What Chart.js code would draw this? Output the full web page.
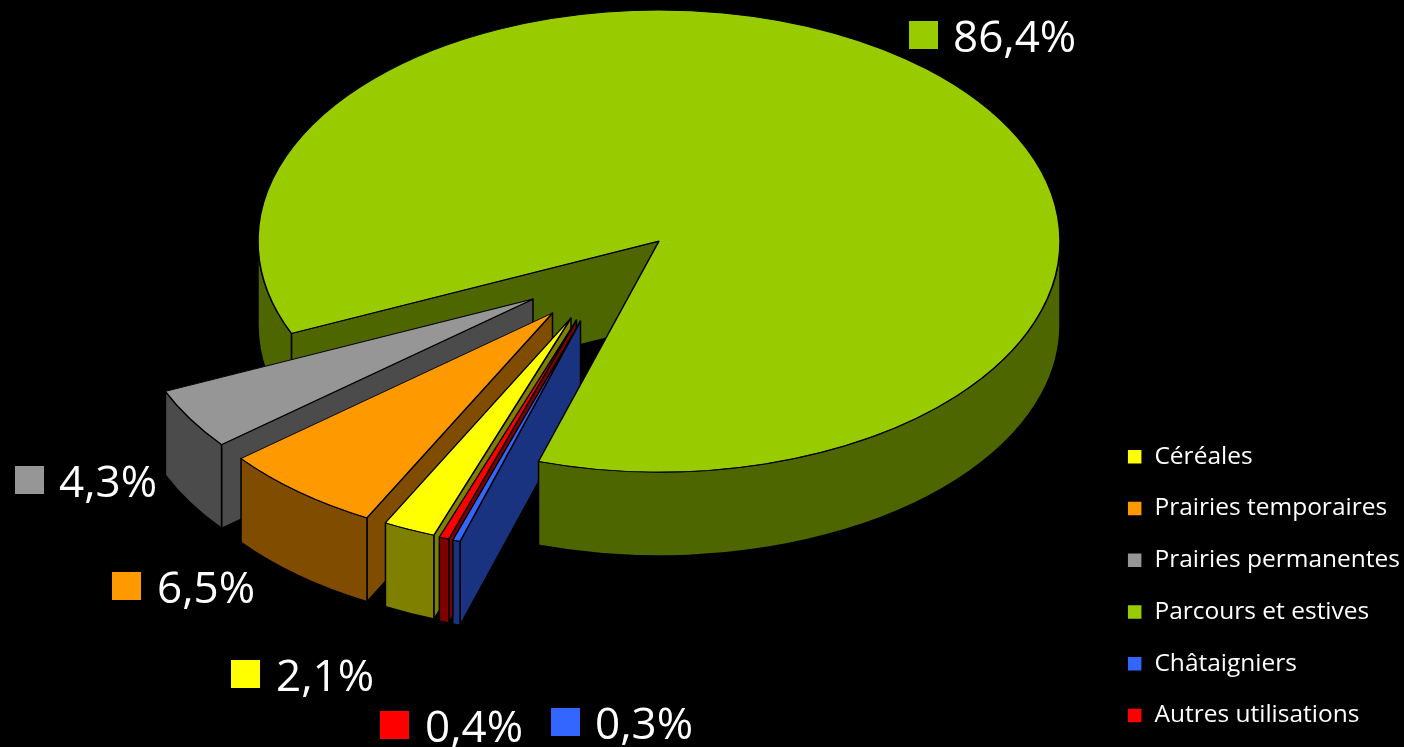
<!DOCTYPE html>
<html>
<head>
<meta charset="utf-8">
<title>Occupation du sol</title>
<script src="https://cdn.jsdelivr.net/npm/chart.js@4"></script>
<style>
  html, body { margin: 0; padding: 0; background: #000; }
  canvas { display: block; }
</style>
</head>
<body>
<canvas id="chart" width="1404" height="747"></canvas>
<script>
// data
const categories = ['Céréales', 'Prairies temporaires', 'Prairies permanentes', 'Parcours et estives', 'Châtaigniers', 'Autres utilisations'];
const shares = [2.1, 6.5, 4.3, 86.4, 0.3, 0.4];

// styles
const topColors = ['#FFFF00', '#FF9900', '#969696', '#99CC00', '#3366FF', '#FF0000'];
const sideColors = ['#808000', '#804D00', '#4B4B4B', '#4D6600', '#1A3380', '#800000'];

// 3d look: where the pie lands on screen, how flat and how thick it is
const view = { x: 659, y: 241, squash: 0.576, depth: 84 };
// how far each slice is pulled out, in screen pixels
const pull = [[-88, 77], [-106.5, 72], [-126, 58], [0, 0], [-78.5, 80], [-82.5, 79]];
// value label spots: square left/top, text left
const labelSpots = [[231, 660, 276], [112, 572, 157], [15, 466, 59], [909, 21, 953], [551, 708, 595], [380, 711, 425]];
const mainSlice = 3;
const drawOrder = [2, 1, 0, 5, 4];

function project(arc, i, angle) {
  const r = arc.outerRadius;
  return [view.x + pull[i][0] + Math.cos(angle) * r, view.y + pull[i][1] + Math.sin(angle) * r * view.squash];
}

function drawWall(ctx, arc, i, angle) {
  const p = project(arc, i, angle);
  const ax = view.x + pull[i][0], ay = view.y + pull[i][1];
  ctx.beginPath();
  ctx.moveTo(ax, ay);
  ctx.lineTo(p[0], p[1]);
  ctx.lineTo(p[0], p[1] + view.depth);
  ctx.lineTo(ax, ay + view.depth);
  ctx.closePath();
  ctx.fillStyle = sideColors[i];
  ctx.fill();
  ctx.stroke();
}

// rim is only seen on the lower half, turn = 0 or 1 picks which lap of the circle
function drawRim(ctx, arc, i, turn) {
  const low = turn * 2 * Math.PI, high = low + Math.PI;
  const a0 = Math.max(arc.startAngle, low), a1 = Math.min(arc.endAngle, high);
  if (a1 <= a0) return;
  const cx = view.x + pull[i][0], cy = view.y + pull[i][1];
  const r = arc.outerRadius, ry = r * view.squash;
  ctx.beginPath();
  ctx.ellipse(cx, cy, r, ry, 0, a0, a1);
  ctx.ellipse(cx, cy + view.depth, r, ry, 0, a1, a0, true);
  ctx.closePath();
  ctx.fillStyle = sideColors[i];
  ctx.fill();
  ctx.stroke();
}

function drawTop(ctx, arc, i) {
  ctx.save();
  ctx.translate(view.x + pull[i][0], view.y + pull[i][1]);
  ctx.scale(1, view.squash);
  ctx.translate(-arc.x, -arc.y);
  arc.draw(ctx);
  ctx.restore();
}

const pie3d = {
  id: 'pie3d',
  beforeDatasetsDraw(chart) {
    const ctx = chart.ctx;
    const arcs = chart.getDatasetMeta(0).data;
    ctx.save();
    ctx.strokeStyle = '#000';
    ctx.lineWidth = 1.5;
    ctx.lineJoin = 'round';

    const main = arcs[mainSlice];
    drawWall(ctx, main, mainSlice, main.startAngle);
    drawRim(ctx, main, mainSlice, 0);

    drawOrder.forEach(i => {
      const arc = arcs[i];
      drawWall(ctx, arc, i, arc.startAngle);
      drawRim(ctx, arc, i, 0);
      drawRim(ctx, arc, i, 1);
      drawTop(ctx, arc, i);
    });

    drawRim(ctx, main, mainSlice, 1);
    drawTop(ctx, main, mainSlice);
    ctx.restore();
    return false;
  },
  afterDraw(chart) {
    const ctx = chart.ctx;
    ctx.save();
    ctx.font = '44px "Open Sans"';
    ctx.textBaseline = 'alphabetic';
    shares.forEach((v, i) => {
      const s = labelSpots[i];
      ctx.fillStyle = topColors[i];
      ctx.fillRect(s[0], s[1], 29, 28);
      ctx.fillStyle = '#fff';
      ctx.fillText(v.toFixed(1).replace('.', ',') + '%', s[2], s[1] + 31);
    });
    ctx.restore();
  }
};

new Chart(document.getElementById('chart'), {
  type: 'pie',
  data: {
    labels: categories,
    datasets: [{
      data: shares,
      backgroundColor: topColors,
      borderColor: '#000',
      borderWidth: 1.5,
      radius: 401
    }]
  },
  options: {
    responsive: false,
    animation: false,
    rotation: 200,
    layout: { padding: { right: -6, bottom: -8 } },
    plugins: {
      tooltip: { enabled: false },
      legend: {
        position: 'right',
        align: 'end',
        labels: {
          color: '#fff',
          font: { family: '"Open Sans"', size: 24.5 },
          boxWidth: 15,
          boxHeight: 15,
          padding: 27.25
        }
      }
    }
  },
  plugins: [pie3d]
});
</script>
</body>
</html>
